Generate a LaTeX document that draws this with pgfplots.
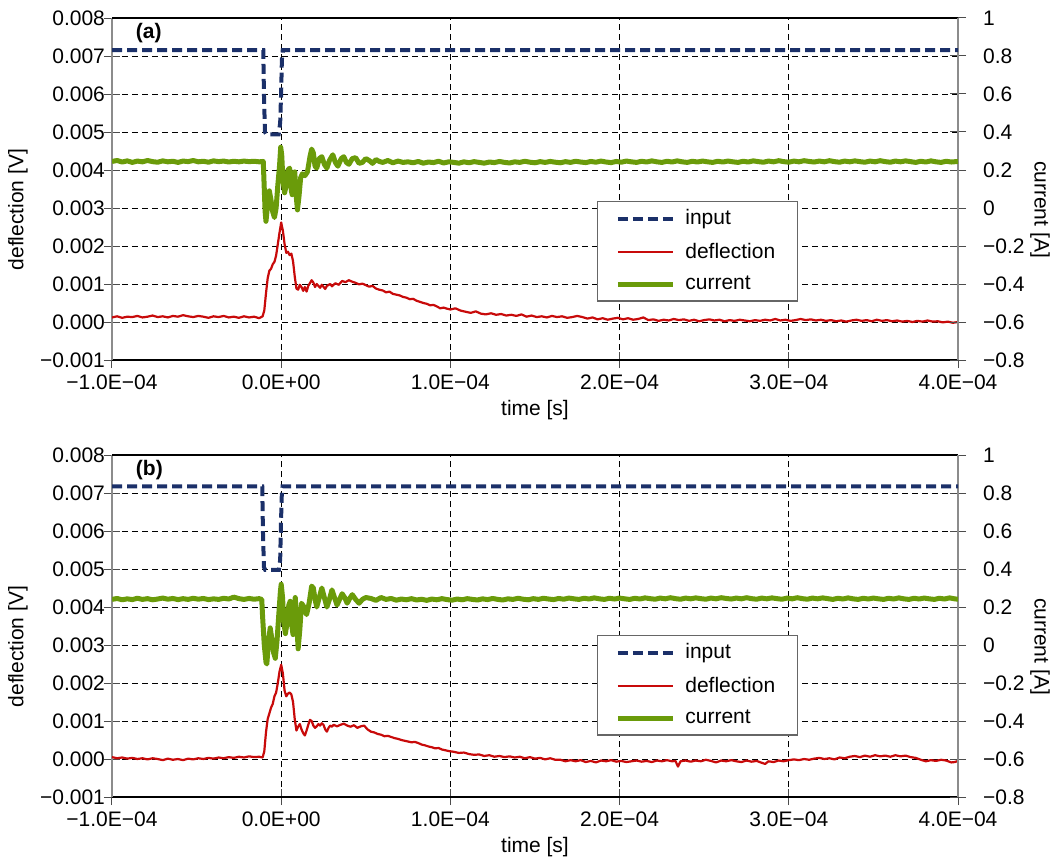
\documentclass[border=0pt]{standalone}
\usepackage{fontspec}
\setmainfont{Liberation Sans}
\usepackage{pgfplots}
\pgfplotsset{compat=1.18}
\usepackage{pgfplotstable}
\definecolor{inputc}{RGB}{27,48,105}
\definecolor{deflc}{RGB}{200,10,10}
\definecolor{currc}{RGB}{106,155,10}

\pgfplotsset{
  base/.style={scale only axis, width=423pt, height=171pt, xmin=-100, xmax=400,
    font=\fontsize{10.5}{12.6}\selectfont, scaled y ticks=false, scaled x ticks=false,
    tick align=center, major tick length=8pt, tick style={black!70, line width=0.5pt}},
  leftax/.style={base, axis x line*=bottom, axis y line*=left,
    x axis line style={black, line width=0.6pt}, y axis line style={black!45, line width=0.9pt},
    ymin=-0.001, ymax=0.008,
    ytick={-0.001,0,0.001,0.002,0.003,0.004,0.005,0.006,0.007,0.008},
    yticklabels={−0.001,0.000,0.001,0.002,0.003,0.004,0.005,0.006,0.007,0.008},
    yticklabel style={xshift=4pt},
    xtick={-100,0,100,200,300,400},
    xticklabels={−1.0E−04,0.0E+00,1.0E−04,2.0E−04,3.0E−04,4.0E−04},
    grid=major, major grid style={black, dash pattern=on 3pt off 2pt, line width=0.4pt},
    xlabel={time [s]}, ylabel={deflection [V]},
    every axis x label/.style={at={(rel axis cs:0.5,0)}, yshift=-25pt, anchor=center},
    every axis y label/.style={at={(rel axis cs:0,0.44)}, xshift=-47pt, rotate=90, anchor=center}},
  rightax/.style={base, axis x line*=top, axis y line*=right, xtick=\empty,
    x axis line style={black, line width=0.6pt}, y axis line style={black!45, line width=0.9pt},
    ymin=-0.8, ymax=1,
    ytick={-0.8,-0.6,-0.4,-0.2,0,0.2,0.4,0.6,0.8,1},
    yticklabels={−0.8,−0.6,−0.4,−0.2,0,0.2,0.4,0.6,0.8,1},
    yticklabel style={xshift=5pt},
    ylabel={current [A]},
    every axis y label/.style={at={(rel axis cs:1,0.44)}, xshift=41pt, rotate=-90, anchor=center},
    legend cell align=left,
    legend image code/.code={\draw[##1] (0pt,0pt) -- (27.5pt,0pt); \path (30.5pt,0pt);},
    legend style={anchor=north west, draw=black!60, line width=0.6pt, fill=white,
      font=\fontsize{10.5}{12.6}\selectfont, inner xsep=9pt, inner ysep=2pt, row sep=3.6pt}},
  inp/.style={color=inputc, line width=2pt, dash pattern=on 5pt off 2.5pt},
  defl/.style={color=deflc, line width=1.1pt, line join=round},
  curr/.style={color=currc, line width=2.5pt, line join=round}
}

\begin{document}
% ---------- panel (a) ----------
\pgfplotstableread[row sep=\\]{t v\\
-100 0.00012\\ -97 0.00015\\ -94 0.00011\\ -91 0.00014\\ -88 0.00013\\ -85 0.00016\\ -82 0.00012\\ -79 0.00014\\ -76 0.00017\\ -73 0.00013\\
-70 0.00015\\ -67 0.00012\\ -64 0.00016\\ -61 0.00014\\ -58 0.00018\\ -55 0.00015\\ -52 0.00013\\ -49 0.00016\\ -46 0.00014\\ -43 0.00011\\
-40 0.00015\\ -37 0.00013\\ -34 0.00016\\ -31 0.00012\\ -28 0.00014\\ -25 0.00011\\ -22 0.00015\\ -19 0.00012\\ -16 0.00014\\ -13 0.00010\\
-11 0.00015\\ -10 0.00030\\ -9 0.00075\\ -8 0.00115\\ -7 0.00135\\ -6 0.00140\\ -5 0.00152\\ -4 0.00158\\ -3 0.00175\\ -2 0.00205\\
-1 0.00235\\ 0 0.00262\\ 1 0.00240\\ 2 0.00205\\ 3 0.00182\\ 4 0.00185\\ 5 0.00176\\ 6 0.00180\\ 7 0.00160\\ 8 0.00120\\
9 0.00088\\ 10 0.00085\\ 11 0.00098\\ 12 0.00092\\ 13 0.00082\\ 14 0.00092\\ 15 0.00080\\ 16 0.00095\\ 18 0.00110\\ 19 0.00104\\
20 0.00092\\ 21 0.00100\\ 23 0.00090\\ 24 0.00098\\ 26 0.00087\\ 27 0.00095\\ 29 0.00100\\ 30 0.00094\\ 32 0.00102\\ 34 0.00098\\
36 0.00108\\ 38 0.00105\\ 40 0.00110\\ 42 0.00106\\ 44 0.00103\\ 46 0.00099\\ 48 0.00101\\ 50 0.00097\\ 52 0.00093\\ 54 0.00095\\
56 0.00088\\ 58 0.00085\\ 60 0.00083\\ 62 0.00078\\ 64 0.00080\\ 66 0.00074\\ 68 0.00072\\ 70 0.00070\\ 72 0.00066\\ 74 0.00064\\
76 0.00060\\ 78 0.00061\\ 80 0.00056\\ 82 0.00053\\ 84 0.00050\\ 86 0.00048\\ 88 0.00044\\ 90 0.00045\\ 92 0.00041\\ 94 0.00036\\
96 0.00038\\ 98 0.00035\\ 100 0.00033\\ 103 0.00036\\ 106 0.00030\\ 109 0.00027\\ 112 0.00024\\ 115 0.00028\\ 118 0.00022\\ 121 0.00020\\
124 0.00023\\ 127 0.00019\\ 130 0.00021\\ 133 0.00017\\ 136 0.00019\\ 139 0.00016\\ 142 0.00020\\ 145 0.00014\\ 148 0.00017\\ 151 0.00013\\
154 0.00015\\ 157 0.00012\\ 160 0.00016\\ 163 0.00013\\ 166 0.00015\\ 169 0.00011\\ 172 0.00013\\ 175 0.00016\\ 178 0.00013\\ 181 0.00009\\
184 0.00012\\ 187 0.00007\\ 190 0.00010\\ 193 0.00006\\ 196 0.00009\\ 199 0.00011\\ 202 0.00007\\ 205 0.00010\\ 208 0.00006\\ 211 0.00008\\
214 0.00012\\ 217 0.00005\\ 220 0.00007\\ 223 0.00003\\ 226 0.00006\\ 229 0.00004\\ 232 0.00008\\ 235 0.00005\\ 238 0.00007\\ 241 0.00003\\
244 0.00006\\ 247 0.00002\\ 250 0.00005\\ 253 0.00007\\ 256 0.00004\\ 259 0.00006\\ 262 0.00002\\ 265 0.00005\\ 268 0.00003\\ 271 0.00006\\
274 0.00004\\ 277 0.00002\\ 280 0.00005\\ 283 0.00003\\ 286 0.00006\\ 289 0.00004\\ 292 0.00008\\ 295 0.00004\\ 298 0.00006\\ 301 0.00003\\
304 0.00005\\ 307 0.00008\\ 310 0.00005\\ 313 0.00007\\ 316 0.00004\\ 319 0.00006\\ 322 0.00003\\ 325 0.00005\\ 328 0.00002\\ 331 0.00004\\
334 0.00001\\ 337 0.00004\\ 340 0.00006\\ 343 0.00003\\ 346 0.00005\\ 349 0.00002\\ 352 0.00006\\ 355 0.00003\\ 358 0.00005\\ 361 0.00002\\
364 0.00004\\ 367 0.00001\\ 370 0.00003\\ 373 0.00000\\ 376 0.00003\\ 379 0.00001\\ 382 0.00004\\ 385 0.00001\\ 388 0.00002\\ 391 -0.00001\\
394 0.00001\\ 397 -0.00002\\ 400 0.00000\\
}\deflA
\pgfplotstableread[row sep=\\]{t i\\
-100 0.245\\ -97 0.250\\ -94 0.242\\ -91 0.248\\ -88 0.240\\ -85 0.247\\ -82 0.243\\ -79 0.250\\ -76 0.244\\ -73 0.241\\
-70 0.248\\ -67 0.243\\ -64 0.246\\ -61 0.240\\ -58 0.247\\ -55 0.244\\ -52 0.250\\ -49 0.243\\ -46 0.246\\ -43 0.241\\
-40 0.248\\ -37 0.244\\ -34 0.247\\ -31 0.242\\ -28 0.246\\ -25 0.243\\ -22 0.247\\ -19 0.244\\ -16 0.246\\ -13 0.243\\
-10.6 0.245\\ -10 0.10\\ -9.5 -0.02\\ -9 -0.07\\ -8 0.02\\ -7 0.09\\ -6 0.04\\ -5 -0.02\\ -4 -0.05\\ -3 0.00\\
-2 0.12\\ -1 0.22\\ -0.3 0.32\\ 0.3 0.28\\ 1 0.15\\ 2 0.08\\ 3 0.12\\ 4 0.20\\ 5 0.21\\ 6 0.09\\
6.5 0.07\\ 7.5 0.16\\ 8 0.19\\ 9 0.05\\ 9.6 -0.01\\ 10.5 0.06\\ 11.5 0.16\\ 12.5 0.18\\ 14 0.17\\ 15.5 0.19\\
17 0.27\\ 18 0.31\\ 19 0.29\\ 20 0.22\\ 21 0.21\\ 22.5 0.26\\ 24 0.27\\ 25.5 0.23\\ 27 0.21\\ 28.5 0.25\\
30.5 0.28\\ 32 0.24\\ 33.5 0.22\\ 35.5 0.26\\ 37 0.27\\ 38.5 0.24\\ 40 0.23\\ 42 0.26\\ 44 0.265\\ 46 0.235\\
48 0.24\\ 50 0.26\\ 52 0.25\\ 54 0.235\\ 56 0.255\\ 58 0.245\\ 60 0.24\\ 63 0.25\\ 66 0.238\\ 69 0.247\\
72 0.240\\ 75 0.243\\ 78 0.238\\ 81 0.245\\ 84 0.236\\ 87 0.242\\ 90 0.239\\ 93 0.246\\ 96 0.237\\ 99 0.243\\
102 0.240\\ 105 0.236\\ 108 0.243\\ 111 0.238\\ 114 0.244\\ 117 0.240\\ 120 0.236\\ 123 0.242\\ 126 0.239\\ 129 0.245\\
132 0.240\\ 135 0.237\\ 138 0.243\\ 141 0.240\\ 144 0.246\\ 147 0.241\\ 150 0.238\\ 153 0.244\\ 156 0.240\\ 159 0.245\\
162 0.241\\ 165 0.238\\ 168 0.244\\ 171 0.240\\ 174 0.246\\ 177 0.242\\ 180 0.239\\ 183 0.245\\ 186 0.241\\ 189 0.247\\
192 0.242\\ 195 0.239\\ 198 0.245\\ 201 0.241\\ 204 0.247\\ 207 0.243\\ 210 0.240\\ 213 0.246\\ 216 0.242\\ 219 0.248\\
222 0.243\\ 225 0.240\\ 228 0.246\\ 231 0.242\\ 234 0.248\\ 237 0.243\\ 240 0.240\\ 243 0.246\\ 246 0.242\\ 249 0.247\\
252 0.243\\ 255 0.240\\ 258 0.246\\ 261 0.242\\ 264 0.247\\ 267 0.243\\ 270 0.240\\ 273 0.246\\ 276 0.242\\ 279 0.248\\
282 0.244\\ 285 0.241\\ 288 0.247\\ 291 0.243\\ 294 0.249\\ 297 0.244\\ 300 0.241\\ 303 0.247\\ 306 0.243\\ 309 0.249\\
312 0.245\\ 315 0.242\\ 318 0.247\\ 321 0.243\\ 324 0.249\\ 327 0.244\\ 330 0.241\\ 333 0.247\\ 336 0.243\\ 339 0.248\\
342 0.244\\ 345 0.241\\ 348 0.247\\ 351 0.243\\ 354 0.249\\ 357 0.244\\ 360 0.241\\ 363 0.247\\ 366 0.243\\ 369 0.248\\
372 0.244\\ 375 0.240\\ 378 0.246\\ 381 0.242\\ 384 0.248\\ 387 0.243\\ 390 0.240\\ 393 0.246\\ 396 0.242\\ 400 0.245\\
}\currA
\pgfplotstableread[row sep=\\]{t i\\
-100 0.831\\ -10.6 0.831\\ -10.2 0.60\\ -9.6 0.40\\ -8.8 0.388\\ -1.5 0.388\\ -0.6 0.45\\ 0.0 0.62\\ 0.4 0.78\\ 0.9 0.831\\ 400 0.831\\
}\inA
% ---------- panel (b) ----------
\pgfplotstableread[row sep=\\]{t v\\
-100 0.00005\\ -97 0.00002\\ -94 0.00004\\ -91 0.00001\\ -88 0.00003\\ -85 0.00000\\ -82 0.00002\\ -79 -0.00001\\ -76 0.00002\\ -73 0.00000\\
-70 -0.00003\\ -67 0.00001\\ -64 -0.00002\\ -61 0.00000\\ -58 -0.00003\\ -55 0.00001\\ -52 -0.00001\\ -49 0.00002\\ -46 0.00000\\ -43 0.00003\\
-40 0.00001\\ -37 0.00004\\ -34 0.00002\\ -31 0.00005\\ -28 0.00003\\ -25 0.00006\\ -22 0.00004\\ -19 0.00007\\ -16 0.00005\\ -13 0.00006\\
-11 0.00004\\ -10 0.00020\\ -9 0.00070\\ -8 0.00105\\ -7 0.00120\\ -6 0.00135\\ -5 0.00145\\ -4 0.00165\\ -3 0.00175\\ -2 0.00200\\
-1 0.00230\\ 0 0.00248\\ 1 0.00225\\ 2 0.00180\\ 3 0.00165\\ 4 0.00172\\ 5 0.00175\\ 6 0.00170\\ 7 0.00150\\ 8 0.00105\\
9 0.00075\\ 10 0.00085\\ 11 0.00092\\ 12 0.00078\\ 13 0.00068\\ 14 0.00062\\ 15 0.00075\\ 16 0.00090\\ 17 0.00103\\ 18 0.00100\\
19 0.00088\\ 20 0.00082\\ 21 0.00086\\ 22 0.00092\\ 23 0.00088\\ 24 0.00094\\ 25 0.00090\\ 26 0.00078\\ 27 0.00072\\ 28 0.00082\\
29 0.00088\\ 30 0.00085\\ 31 0.00090\\ 33 0.00086\\ 35 0.00090\\ 37 0.00093\\ 39 0.00088\\ 41 0.00085\\ 43 0.00089\\ 45 0.00082\\
47 0.00086\\ 49 0.00088\\ 51 0.00078\\ 53 0.00072\\ 55 0.00070\\ 57 0.00066\\ 59 0.00064\\ 61 0.00060\\ 63 0.00061\\ 65 0.00058\\
67 0.00055\\ 69 0.00053\\ 71 0.00050\\ 73 0.00048\\ 75 0.00046\\ 77 0.00044\\ 79 0.00045\\ 81 0.00042\\ 83 0.00038\\ 85 0.00036\\
87 0.00033\\ 89 0.00031\\ 91 0.00028\\ 93 0.00029\\ 95 0.00025\\ 97 0.00023\\ 99 0.00021\\ 102 0.00019\\ 105 0.00016\\ 108 0.00017\\
111 0.00013\\ 114 0.00011\\ 117 0.00012\\ 120 0.00008\\ 123 0.00010\\ 126 0.00006\\ 129 0.00008\\ 132 0.00005\\ 135 0.00007\\ 138 0.00004\\
141 0.00006\\ 144 0.00002\\ 147 0.00005\\ 150 0.00001\\ 153 0.00003\\ 156 -0.00001\\ 159 0.00002\\ 162 -0.00002\\ 165 -0.00002\\ 168 -0.00006\\
171 -0.00003\\ 174 -0.00006\\ 177 -0.00003\\ 180 -0.00008\\ 183 -0.00005\\ 186 -0.00009\\ 189 -0.00004\\ 192 -0.00006\\ 195 -0.00003\\ 198 -0.00007\\
201 -0.00005\\ 204 -0.00008\\ 207 -0.00006\\ 210 -0.00004\\ 213 -0.00007\\ 216 -0.00005\\ 219 -0.00008\\ 222 -0.00004\\ 225 -0.00006\\ 228 -0.00003\\
231 -0.00006\\ 233 -0.00005\\ 234.5 -0.00020\\ 236 -0.00006\\ 239 -0.00004\\ 242 -0.00007\\ 245 -0.00004\\ 248 -0.00006\\ 251 -0.00002\\ 254 -0.00005\\
257 -0.00009\\ 260 -0.00004\\ 263 -0.00006\\ 266 -0.00003\\ 269 -0.00006\\ 272 -0.00008\\ 275 -0.00004\\ 278 -0.00007\\ 281 -0.00005\\ 284 -0.00010\\
286 -0.00013\\ 288 -0.00006\\ 291 -0.00008\\ 294 -0.00004\\ 297 -0.00006\\ 300 -0.00003\\ 303 -0.00001\\ 306 -0.00003\\ 309 0.00000\\ 312 -0.00002\\
315 0.00001\\ 318 0.00003\\ 321 0.00000\\ 324 0.00002\\ 327 -0.00001\\ 330 0.00004\\ 333 0.00002\\ 336 0.00006\\ 339 0.00008\\ 342 0.00005\\
345 0.00009\\ 348 0.00006\\ 351 0.00010\\ 354 0.00007\\ 357 0.00009\\ 360 0.00006\\ 363 0.00010\\ 366 0.00007\\ 369 0.00009\\ 372 0.00005\\
375 0.00003\\ 378 -0.00002\\ 381 -0.00006\\ 384 -0.00003\\ 387 -0.00005\\ 390 -0.00002\\ 393 -0.00004\\ 396 -0.00009\\ 398 -0.00008\\ 400 -0.00005\\
}\deflB
\pgfplotstableread[row sep=\\]{t i\\
-100 0.240\\ -97 0.245\\ -94 0.238\\ -91 0.243\\ -88 0.239\\ -85 0.246\\ -82 0.240\\ -79 0.244\\ -76 0.238\\ -73 0.242\\
-70 0.247\\ -67 0.241\\ -64 0.245\\ -61 0.239\\ -58 0.244\\ -55 0.240\\ -52 0.246\\ -49 0.241\\ -46 0.245\\ -43 0.239\\
-40 0.243\\ -37 0.240\\ -34 0.246\\ -31 0.242\\ -28 0.252\\ -25 0.244\\ -22 0.240\\ -19 0.245\\ -16 0.241\\ -13 0.244\\
-11.5 0.240\\ -11 0.15\\ -10 0.00\\ -9 -0.09\\ -8.5 -0.10\\ -7.5 0.02\\ -6.5 0.09\\ -5.5 0.03\\ -4.5 -0.04\\ -3.5 -0.07\\
-2.5 0.02\\ -1.5 0.15\\ -0.5 0.28\\ 0.0 0.32\\ 0.8 0.25\\ 1.5 0.12\\ 2.5 0.06\\ 3.5 0.12\\ 4.5 0.21\\ 5.3 0.23\\
6 0.12\\ 7 0.055\\ 7.7 0.15\\ 8.3 0.25\\ 9 0.15\\ 10 -0.02\\ 11 0.08\\ 12 0.22\\ 13.5 0.20\\ 15 0.16\\
16.5 0.22\\ 18 0.31\\ 19 0.30\\ 20 0.24\\ 21 0.20\\ 22.5 0.25\\ 24 0.30\\ 25.5 0.25\\ 27 0.20\\ 28.5 0.24\\
30 0.29\\ 31.5 0.25\\ 33 0.21\\ 34.5 0.24\\ 36 0.27\\ 37.5 0.25\\ 39 0.22\\ 40.5 0.245\\ 42 0.265\\ 44 0.24\\
46 0.22\\ 48 0.24\\ 50 0.25\\ 53 0.245\\ 56 0.235\\ 59 0.25\\ 62 0.24\\ 65 0.245\\ 68 0.236\\ 71 0.242\\
74 0.238\\ 77 0.244\\ 80 0.237\\ 83 0.241\\ 86 0.235\\ 89 0.242\\ 92 0.238\\ 95 0.244\\ 98 0.239\\ 101 0.236\\
104 0.242\\ 107 0.238\\ 110 0.244\\ 113 0.240\\ 116 0.237\\ 119 0.243\\ 122 0.239\\ 125 0.245\\ 128 0.240\\ 131 0.237\\
134 0.243\\ 137 0.240\\ 140 0.246\\ 143 0.241\\ 146 0.238\\ 149 0.244\\ 152 0.240\\ 155 0.246\\ 158 0.242\\ 161 0.239\\
164 0.245\\ 167 0.241\\ 170 0.247\\ 173 0.243\\ 176 0.240\\ 179 0.246\\ 182 0.242\\ 185 0.248\\ 188 0.243\\ 191 0.240\\
194 0.246\\ 197 0.242\\ 200 0.247\\ 203 0.243\\ 206 0.240\\ 209 0.246\\ 212 0.242\\ 215 0.248\\ 218 0.244\\ 221 0.241\\
224 0.247\\ 227 0.243\\ 230 0.249\\ 233 0.244\\ 236 0.241\\ 239 0.247\\ 242 0.243\\ 245 0.248\\ 248 0.244\\ 251 0.241\\
254 0.247\\ 257 0.243\\ 260 0.249\\ 263 0.245\\ 266 0.242\\ 269 0.247\\ 272 0.243\\ 275 0.249\\ 278 0.244\\ 281 0.241\\
284 0.247\\ 287 0.243\\ 290 0.248\\ 293 0.244\\ 296 0.241\\ 299 0.247\\ 302 0.243\\ 305 0.249\\ 308 0.244\\ 311 0.241\\
314 0.247\\ 317 0.243\\ 320 0.248\\ 323 0.244\\ 326 0.240\\ 329 0.246\\ 332 0.242\\ 335 0.248\\ 338 0.243\\ 341 0.240\\
344 0.246\\ 347 0.242\\ 350 0.247\\ 353 0.243\\ 356 0.240\\ 359 0.246\\ 362 0.242\\ 365 0.248\\ 368 0.243\\ 371 0.240\\
374 0.246\\ 377 0.242\\ 380 0.247\\ 383 0.243\\ 386 0.240\\ 389 0.246\\ 392 0.242\\ 395 0.248\\ 398 0.243\\ 400 0.241\\
}\currB
\pgfplotstableread[row sep=\\]{t i\\
-100 0.835\\ -11.2 0.835\\ -10.8 0.60\\ -10.2 0.41\\ -9.4 0.395\\ -1.4 0.395\\ -0.6 0.45\\ -0.2 0.62\\ 0.3 0.78\\ 0.8 0.835\\ 400 0.835\\
}\inB

\begin{tikzpicture}
\useasboundingbox (0,0) rectangle (526pt,-433pt);
% panel (a)
\begin{axis}[leftax, at={(56pt,-180pt)}, anchor=south west]
  \addplot[defl] table[x=t, y=v] {\deflA};
  \node[anchor=west, font=\fontsize{10.5}{12}\selectfont\bfseries] at (rel axis cs:0.02,0.955) {(a)};
\end{axis}
\begin{axis}[rightax, at={(56pt,-180pt)}, anchor=south west,
  legend style={at={(0.573,0.465)}}]
  \addplot[inp] table[x=t, y=i] {\inA};
  \addlegendentry{input}
  \addlegendimage{defl}
  \addlegendentry{deflection}
  \addplot[curr] table[x=t, y=i] {\currA};
  \addlegendentry{current}
\end{axis}
% panel (b)
\begin{axis}[leftax, at={(56pt,-398.5pt)}, anchor=south west]
  \addplot[defl] table[x=t, y=v] {\deflB};
  \node[anchor=west, font=\fontsize{10.5}{12}\selectfont\bfseries] at (rel axis cs:0.02,0.955) {(b)};
\end{axis}
\begin{axis}[rightax, at={(56pt,-398.5pt)}, anchor=south west,
  legend style={at={(0.573,0.474)}}]
  \addplot[inp] table[x=t, y=i] {\inB};
  \addlegendentry{input}
  \addlegendimage{defl}
  \addlegendentry{deflection}
  \addplot[curr] table[x=t, y=i] {\currB};
  \addlegendentry{current}
\end{axis}
\end{tikzpicture}
\end{document}
